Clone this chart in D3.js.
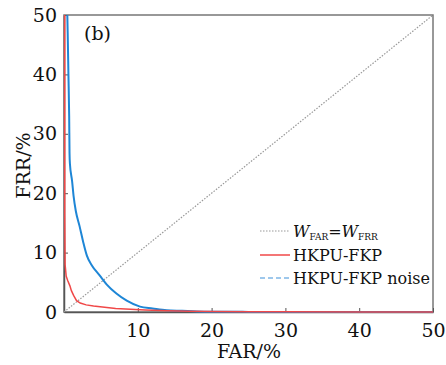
<!DOCTYPE html>
<html lang="en">
<head>
<meta charset="UTF-8" />
<title>FAR / FRR</title>
<script src="https://d3js.org/d3.v7.min.js"></script>
<style>
  body { margin: 0; background: #fff; }
  svg text { font-family: "DejaVu Serif", serif; fill: #111; }
</style>
</head>
<body>
<svg id="chart" width="446" height="365"></svg>
<script>
// values (percent)
const cleanFar = [0.1, 0.1, 0.1, 0.15, 0.3, 0.5, 0.8, 1.0, 1.3, 1.7, 2.2, 3.0, 4.0, 5.5, 7.0, 9.0, 11, 14, 17, 20, 25, 30, 40, 50];
const cleanFrr = [50, 30, 16.6, 8, 6.0, 5.3, 4.4, 3.6, 2.8, 1.9, 1.5, 1.2, 1.0, 0.8, 0.6, 0.45, 0.35, 0.2, 0.12, 0.08, 0.05, 0.03, 0.01, 0];
const noiseFar = [0.45, 0.5, 0.6, 0.7, 0.75, 0.8, 1.1, 1.3, 1.6, 2.1, 2.6, 3.1, 3.8, 4.8, 5.8, 7.1, 8.5, 10.3, 12, 13.9, 16, 18, 20, 25, 30, 40, 50];
const noiseFrr = [50, 47, 40, 33, 26.7, 25, 22, 19.5, 17, 14.5, 11.8, 9.5, 7.8, 6.2, 4.6, 3.1, 1.9, 0.9, 0.6, 0.3, 0.2, 0.1, 0.05, 0.02, 0.01, 0, 0];
const ticks = [0, 10, 20, 30, 40, 50];

const svg = d3.select("#chart");
const mLeft = 64, mRight = 433, mTop = 15, mBottom = 312;
const serif = "DejaVu Serif, serif";

const x = d3.scaleLinear().domain([0, 50]).range([mLeft, mRight]);
const y = d3.scaleLinear().domain([0, 50]).range([mBottom, mTop]);

// frame
svg.append("rect")
  .attr("x", mLeft).attr("y", mTop)
  .attr("width", mRight - mLeft).attr("height", mBottom - mTop)
  .attr("fill", "none").attr("stroke", "#777").attr("stroke-width", 1.5);

// x axis
const xAxis = svg.append("g")
  .attr("transform", `translate(0,${mBottom})`)
  .attr("font-family", serif)
  .call(d3.axisBottom(x).tickValues(ticks.slice(1)).tickSizeInner(-4).tickSizeOuter(0).tickPadding(10));
xAxis.attr("font-size", 19).attr("font-family", serif);
xAxis.select(".domain").attr("stroke", "#555").attr("stroke-width", 1.5);
xAxis.selectAll("line").attr("stroke", "#555");
xAxis.selectAll("text").attr("dy", "0.8em");

// y axis
const yAxis = svg.append("g")
  .attr("transform", `translate(${mLeft},0)`)
  .call(d3.axisLeft(y).tickValues(ticks).tickSizeInner(-4).tickSizeOuter(0).tickPadding(7));
yAxis.attr("font-size", 19).attr("font-family", serif);
yAxis.select(".domain").attr("stroke", "#555").attr("stroke-width", 1.5);
yAxis.selectAll("line").attr("stroke", "#555");

// diagonal W_FAR = W_FRR
svg.append("line")
  .attr("x1", x(0)).attr("y1", y(0)).attr("x2", x(50)).attr("y2", y(50))
  .attr("stroke", "#999").attr("stroke-width", 1.2).attr("stroke-dasharray", "1.5,1.5");

const line = d3.line().x(d => x(d[0])).y(d => y(d[1])).curve(d3.curveMonotoneX);

svg.append("path")
  .datum(noiseFar.map((v, i) => [v, noiseFrr[i]]))
  .attr("d", line).attr("fill", "none")
  .attr("stroke", "#1e86d6").attr("stroke-width", 2);

svg.append("path")
  .datum(cleanFar.map((v, i) => [v, cleanFrr[i]]))
  .attr("d", d3.line().x(d => x(d[0])).y(d => y(d[1])))
  .attr("fill", "none")
  .attr("stroke", "#f04848").attr("stroke-width", 1.5);

// panel label
svg.append("text").attr("x", 84).attr("y", 40).attr("font-size", 19).text("(b)");

// axis titles
svg.append("text").attr("x", 249).attr("y", 358)
  .attr("text-anchor", "middle").attr("font-size", 19).text("FAR/%");
svg.append("text")
  .attr("transform", `translate(30,${(mTop + mBottom) / 2 + 2}) rotate(-90)`)
  .attr("text-anchor", "middle").attr("font-size", 19).text("FRR/%");

// legend
const lg = svg.append("g");
const lx1 = 260, lx2 = 290, tx = 293;
lg.append("line").attr("x1", lx1).attr("x2", lx2).attr("y1", 231).attr("y2", 231)
  .attr("stroke", "#999").attr("stroke-width", 1.2).attr("stroke-dasharray", "1.5,1.5");
const t0 = lg.append("text").attr("x", tx).attr("y", 237).attr("font-size", 16);
t0.append("tspan").attr("font-style", "italic").text("W");
t0.append("tspan").attr("font-size", 9).attr("dy", 3).text("FAR");
t0.append("tspan").attr("dy", -3).text("=");
t0.append("tspan").attr("font-style", "italic").text("W");
t0.append("tspan").attr("font-size", 9).attr("dy", 3).text("FRR");

lg.append("line").attr("x1", lx1).attr("x2", lx2).attr("y1", 255).attr("y2", 255)
  .attr("stroke", "#f04848").attr("stroke-width", 1.5);
lg.append("text").attr("x", tx).attr("y", 261).attr("font-size", 16).text("HKPU\u2010FKP");

lg.append("line").attr("x1", lx1).attr("x2", lx2).attr("y1", 278).attr("y2", 278)
  .attr("stroke", "#7fb6e6").attr("stroke-width", 1.5).attr("stroke-dasharray", "5,3");
lg.append("text").attr("x", tx).attr("y", 284).attr("font-size", 16).text("HKPU\u2010FKP noise");
</script>
</body>
</html>
